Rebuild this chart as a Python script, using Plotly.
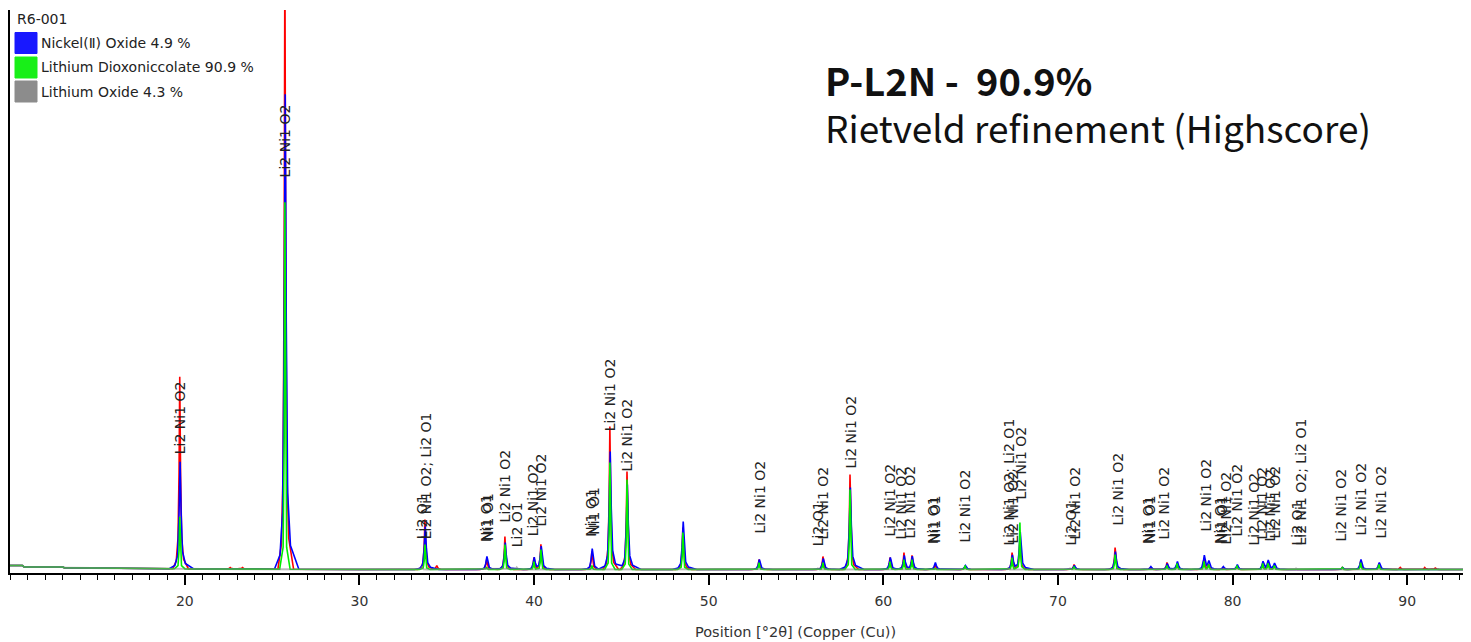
import numpy as np
import plotly.graph_objects as go

# ------------------------------------------------------------------ data
# peak positions (°2θ) and heights (counts, baseline-relative)
peak_pos = [19.71, 25.73, 33.75, 37.28, 38.33, 39.99, 40.39, 43.31, 44.34, 45.32, 48.52,
            52.88, 56.54, 58.09, 60.38, 61.18, 61.64, 62.96, 64.68, 67.37, 67.82, 70.92,
            73.27, 75.30, 76.24, 76.82, 78.36, 78.62, 79.45, 80.25, 81.72, 82.02, 82.38,
            86.28, 87.33, 88.38]
red_h = [192, 620, 50, 10, 33, 12, 25, 18, 143, 98, 42,
         10, 13, 95, 12, 17, 14, 5, 3, 17, 30, 5,
         22, 2, 7, 6, 10, 5, 2, 3, 5, 6, 4,
         2, 8, 6]
blue_h = [107, 475, 43, 13, 27, 12, 23, 21, 118, 85, 48,
          10, 11, 82, 12, 14, 13, 7, 4, 14, 37, 4,
          18, 3, 6, 8, 14, 8, 3, 5, 8, 9, 6,
          2, 10, 7]
green_h = [52, 367, 25, 2, 25, 8, 20, 4, 107, 90, 37,
           7, 7, 80, 8, 10, 10, 1, 4, 12, 47, 3,
           15, 0, 4, 6, 8, 5, 0, 4, 6, 6, 4,
           2, 7, 5]
# small extra features of the measured scan
red_extra_pos = [22.6, 23.3, 34.43, 89.6, 91.0, 91.6]
red_extra_h = [1.5, 1.5, 4, 2, 2, 1.5]
# Li2O phase (grey)
li2o_pos = [33.57, 39.01, 56.25, 67.14, 70.69, 83.63]
li2o_h = [2, 2, 1, 1, 1, 1]
# background
bg_x = [9.99, 10.7, 10.8, 13.0, 13.1, 18.0, 21.0, 30.0, 93.65]
bg_y = [4.5, 4.5, 3.0, 3.0, 2.2, 1.5, 1.0, 0.5, 0.5]

# reflection labels: position, text, base height
label_pos = [19.71, 25.73, 33.57, 33.80, 37.24, 37.35, 38.33, 39.01, 39.93, 40.39,
             43.25, 43.42, 44.34, 45.32, 52.88, 56.25, 56.54, 58.09, 60.38, 61.01,
             61.47, 62.84, 62.96, 64.67, 67.14, 67.37, 67.88, 70.69, 70.97, 73.38,
             75.15, 75.27, 76.07, 78.42, 79.28, 79.39, 79.62, 80.25, 81.17, 81.68,
             82.14, 82.37, 83.63, 83.86, 86.15, 87.30, 88.44]
label_text = ["Li2 Ni1 O2", "Li2 Ni1 O2", "Li2 O1", "Li2 Ni1 O2; Li2 O1", "Ni1 O1", "Ni1 O1",
              "Li2 Ni1 O2", "Li2 O1", "Li2 Ni1 O2", "Li2 Ni1 O2",
              "Ni1 O1", "Ni1 O1", "Li2 Ni1 O2", "Li2 Ni1 O2", "Li2 Ni1 O2", "Li2 O1",
              "Li2 Ni1 O2", "Li2 Ni1 O2", "Li2 Ni1 O2", "Li2 Ni1 O2",
              "Li2 Ni1 O2", "Ni1 O1", "Ni1 O1", "Li2 Ni1 O2", "Li2 Ni1 O2; Li2 O1",
              "Li2 Ni1 O2", "Li2 Ni1 O2", "Li2 O1", "Li2 Ni1 O2", "Li2 Ni1 O2",
              "Ni1 O1", "Ni1 O1", "Li2 Ni1 O2", "Li2 Ni1 O2", "Ni1 O1", "Ni1 O1",
              "Li2 Ni1 O2", "Li2 Ni1 O2", "Li2 Ni1 O2", "Li2 Ni1 O2",
              "Li2 Ni1 O2", "Li2 Ni1 O2", "Li2 O1", "Li2 Ni1 O2; Li2 O1", "Li2 Ni1 O2",
              "Li2 Ni1 O2", "Li2 Ni1 O2"]
label_base = [115, 392, 30, 30, 27, 28, 47, 22, 33, 43,
              32, 34, 138, 98, 35, 23, 30, 100, 33, 30,
              30, 25, 26, 27, 23, 25, 70, 23, 30, 43,
              25, 26, 30, 37, 25, 26, 25, 33, 23, 30,
              28, 30, 23, 23, 27, 33, 30]

tick_vals = [20, 30, 40, 50, 60, 70, 80, 90]
tick_text = ["20", "30", "40", "50", "60", "70", "80", "90"]

legend_title = "R6-001"
legend_names = ["Nickel(Ⅱ) Oxide 4.9 %", "Lithium Dioxoniccolate 90.9 %", "Lithium Oxide 4.3 %"]
legend_colors = ["#0000ff", "#00ee00", "#808080"]

# ------------------------------------------------------------------ style
X_RANGE = [9.99, 93.65]
Y_RANGE = [-3, 560]
OFF = 8                      # page body margin of the html page
W, H = 1471 - OFF, 642 - OFF
ML, MR, MT, MB = 10 - OFF, 0, 10 - OFF, 69

RED_DX = np.array([-0.40, -0.20, -0.10, -0.04, 0.0, 0.05, 0.11, 0.22, 0.50])
RED_F = np.array([0, 0.04, 0.16, 0.50, 1.0, 0.48, 0.16, 0.05, 0])
BLUE_DX = np.array([-0.60, -0.28, -0.13, -0.05, 0.02, 0.08, 0.16, 0.32, 0.80])
BLUE_F = np.array([0, 0.03, 0.12, 0.45, 1.0, 0.52, 0.16, 0.05, 0])
GREEN_DX = np.array([-0.30, -0.10, -0.04, 0.0, 0.04, 0.10, 0.30])
GREEN_F = np.array([0, 0.06, 0.35, 1.0, 0.35, 0.06, 0])


def build(pos, hts, dx, f):
    xs = set(bg_x)
    for p in pos:
        for d in dx:
            xs.add(round(p + d, 4))
    xs = np.array(sorted(x for x in xs if X_RANGE[0] <= x <= X_RANGE[1]))
    ys = np.interp(xs, bg_x, bg_y)
    for p, h in zip(pos, hts):
        if h:
            ys = ys + np.interp(xs, p + dx, h * f, left=0, right=0)
    return xs, ys


rx, ry = build(peak_pos + red_extra_pos, red_h + red_extra_h, RED_DX, RED_F)
bx, by = build(peak_pos, blue_h, BLUE_DX, BLUE_F)
gx, gy = build(peak_pos, green_h, GREEN_DX, GREEN_F)
lx, ly = build(li2o_pos, li2o_h, GREEN_DX, GREEN_F)

fig = go.Figure()
fig.add_trace(go.Scatter(x=rx, y=ry, mode="lines", line=dict(color="#ff0000", width=1.6),
                         name="Observed", showlegend=False, hoverinfo="skip"))
fig.add_trace(go.Scatter(x=bx, y=by, mode="lines", line=dict(color="#0000ff", width=1.6),
                         name=legend_names[0], showlegend=False, hoverinfo="skip"))
fig.add_trace(go.Scatter(x=gx, y=gy, mode="lines", line=dict(color="#00ee00", width=1.6),
                         name=legend_names[1], showlegend=False, hoverinfo="skip"))
fig.add_trace(go.Scatter(x=lx, y=ly, mode="lines", line=dict(color="#808080", width=2),
                         opacity=0.55, name=legend_names[2], showlegend=False, hoverinfo="skip"))

LABEL_FONT = dict(family="DejaVu Sans", size=14, color="#222222")
annotations = []
for p, t, b in zip(label_pos, label_text, label_base):
    annotations.append(dict(x=p, y=b, xref="x", yref="y", text=t, showarrow=False,
                            textangle=-90, xanchor="center", yanchor="bottom",
                            font=LABEL_FONT, borderpad=0))

PW = W - ML - MR
PH = H - MT - MB


def px_x(px):
    # window pixel -> paper fraction
    return (px - OFF - ML) / PW


def px_y(py):
    return (H - MB - (py - OFF)) / PH


shapes = []
# legend
annotations.append(dict(x=px_x(16), y=px_y(19), xref="paper", yref="paper", text=legend_title,
                        showarrow=False, xanchor="left", yanchor="middle",
                        font=dict(family="DejaVu Sans", size=14, color="#222222"), borderpad=0))
row_centers = [43, 67.5, 91.5]
for name, col, yc in zip(legend_names, legend_colors, row_centers):
    shapes.append(dict(type="rect", xref="paper", yref="paper",
                       x0=px_x(15), x1=px_x(37), y0=px_y(yc + 10.5), y1=px_y(yc - 10.5),
                       fillcolor=col, line=dict(color=col, width=1), opacity=0.9))
    annotations.append(dict(x=px_x(40), y=px_y(yc), xref="paper", yref="paper", text=name,
                            showarrow=False, xanchor="left", yanchor="middle",
                            font=dict(family="DejaVu Sans", size=14, color="#222222"),
                            borderpad=0))

# headline text
annotations.append(dict(x=px_x(824), y=px_y(80), xref="paper", yref="paper",
                        text="<b>P-L2N -\u00a0 90.9%</b>", showarrow=False,
                        xanchor="left", yanchor="middle",
                        font=dict(family="Noto Sans CJK KR", size=38, color="#111111"),
                        borderpad=0))
annotations.append(dict(x=px_x(824), y=px_y(127), xref="paper", yref="paper",
                        text="Rietveld refinement (Highscore)", showarrow=False,
                        xanchor="left", yanchor="middle",
                        font=dict(family="Noto Sans CJK KR", size=37, color="#111111"),
                        borderpad=0))
# x axis title
annotations.append(dict(x=px_x(795), y=px_y(632), xref="paper", yref="paper",
                        text="Position [°2θ] (Copper (Cu))", showarrow=False,
                        xanchor="center", yanchor="middle",
                        font=dict(family="DejaVu Sans", size=14.5, color="#333333"),
                        borderpad=0))

fig.update_layout(
    width=W, height=H,
    margin=dict(l=ML, r=MR, t=MT, b=MB, pad=0),
    paper_bgcolor="white", plot_bgcolor="white",
    showlegend=False,
    annotations=annotations,
    shapes=shapes,
    xaxis=dict(range=X_RANGE, tickmode="array", tickvals=tick_vals, ticktext=tick_text,
               ticks="outside", ticklen=10, tickwidth=1.5, tickcolor="black",
               showline=True, linecolor="black", linewidth=2, showgrid=False, zeroline=False,
               ticklabelstandoff=4,
               tickfont=dict(family="DejaVu Sans", size=14, color="#333333"),
               minor=dict(dtick=1, tick0=0, ticks="outside", ticklen=5, tickwidth=1,
                          tickcolor="black", showgrid=False),
               automargin=False),
    yaxis=dict(range=Y_RANGE, showline=True, linecolor="black", linewidth=2,
               showticklabels=False, ticks="", showgrid=False, zeroline=False,
               automargin=False),
)

fig.write_html("out.html")
